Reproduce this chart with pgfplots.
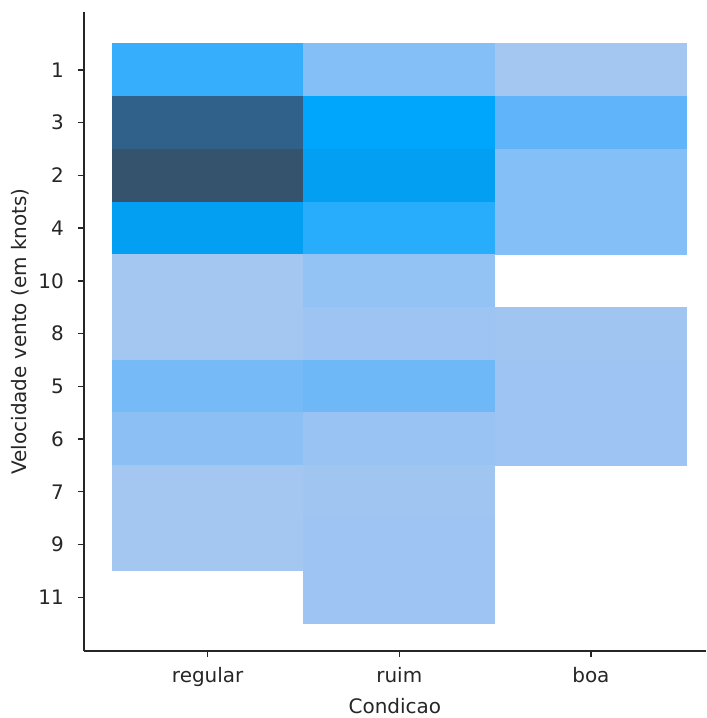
\documentclass[border=0pt]{standalone}
\usepackage{pgfplots}
\pgfplotsset{compat=1.18}
\usepackage{pgfplotstable}
\usepackage{fontspec}
\setmainfont{DejaVu Sans}
\pgfdeclareplotmark{cell}{%
  \pgfpathrectangle{\pgfpoint{-72.2pt}{-20pt}}{\pgfpoint{144.4pt}{40pt}}%
  \pgfusepathqfill}
\pgfplotsset{colormap={sns}{%
  rgb255(1pt)=(164,199,241)
  rgb255(3pt)=(157,196,242)
  rgb255(5pt)=(147,194,244)
  rgb255(7pt)=(133,191,247)
  rgb255(10pt)=(118,186,247)
  rgb255(13pt)=(96,180,249)
  rgb255(17pt)=(54,174,252)
  rgb255(21pt)=(0,166,252)
  rgb255(24pt)=(3,159,242)
  rgb255(55pt)=(48,97,138)
  rgb255(61pt)=(54,83,110)}}
% x: 0 regular, 1 ruim, 2 boa ; y: row index (labels 1,3,2,4,10,8,5,6,7,9,11)
\pgfplotstableread{
x y c
0 0 17
1 0 7
2 0 1
0 1 55
1 1 21
2 1 13
0 2 61
1 2 24
2 2 7
0 3 24
1 3 18
2 3 7
0 4 1
1 4 5
0 5 1
1 5 3
2 5 2
0 6 10
1 6 11
2 6 3
0 7 6
1 7 4
2 7 3
0 8 1
1 8 2
0 9 1
1 9 3
1 10 3
}\cells
\begin{document}
\begin{tikzpicture}
\begin{axis}[
  scale only axis,
  width=467.25pt, height=480pt,
  xmin=-0.646, xmax=2.6,
  ymin=-1.1, ymax=11.02,
  y dir=reverse,
  axis x line*=bottom, axis y line*=left,
  axis line style={line width=1pt, -, black!85},
  xtick={0,1,2}, xticklabels={regular,ruim,boa},
  ytick={0,1,2,3,4,5,6,7,8,9,10},
  yticklabels={1,3,2,4,10,8,5,6,7,9,11},
  tick align=outside,
  major tick length=4.5pt,
  tick style={line width=1pt, black!85},
  /pgf/number format/assume math mode=true,
  ticklabel style={font=\fontsize{15}{18}\selectfont, text=black!85},
  xticklabel style={yshift=-4pt},
  yticklabel style={xshift=-7pt},
  label style={font=\fontsize{15}{18}\selectfont, text=black!85},
  xlabel={Condicao},
  ylabel={Velocidade vento (em knots)},
  xlabel style={yshift=-2pt},
  ylabel style={yshift=0pt},
  colormap name=sns,
  point meta min=1, point meta max=61,
]
\addplot[scatter, only marks, mark=cell,
  scatter/use mapped color={draw=mapped color, fill=mapped color},
  point meta=explicit] table[x=x, y=y, meta=c] {\cells};
\end{axis}
\path ([xshift=-63pt,yshift=-49.5pt]current axis.south west) rectangle ([yshift=9pt]current axis.north east);
\end{tikzpicture}
\end{document}
